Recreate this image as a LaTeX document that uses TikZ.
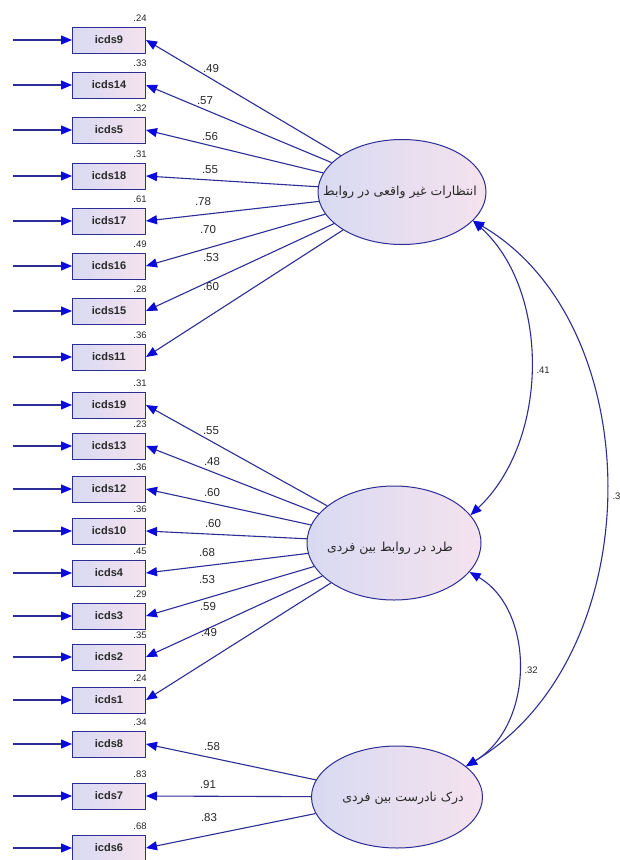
\documentclass[tikz,border=0pt]{standalone}
\usepackage{fontspec}
\setmainfont{Liberation Sans}
\newfontfamily\arabicfont[Script=Arabic]{DejaVu Sans}
\TeXXeTstate=1
\usetikzlibrary{arrows.meta,shapes.geometric}
\definecolor{edgec}{RGB}{45,45,150}
\definecolor{tipc}{RGB}{10,10,220}
\definecolor{fillL}{RGB}{216,218,242}
\definecolor{fillR}{RGB}{245,226,238}
\definecolor{txt}{RGB}{40,40,40}
\begin{document}
\begin{tikzpicture}[x=1pt,y=-1pt,
 obs/.style={draw=edgec, line width=1pt, left color=fillL, right color=fillR,
   minimum width=73pt, minimum height=26pt, inner sep=0pt,
   font=\fontsize{11}{12}\selectfont\bfseries, text=txt},
 lat/.style={ellipse, draw=edgec, line width=1pt, left color=fillL, right color=fillR, inner sep=0pt},
 arr/.style={draw=edgec, line width=1.1pt, -{Triangle[length=11pt,width=9pt,color=tipc]}},
 dbl/.style={draw=edgec, line width=1.1pt, {Triangle[length=11pt,width=9pt,color=tipc]}-{Triangle[length=11pt,width=9pt,color=tipc]}},
 coef/.style={font=\fontsize{11.5}{13}\selectfont, text=txt},
 var/.style={font=\fontsize{9.5}{11}\selectfont, text=txt},
 fac/.style={font=\arabicfont\fontsize{12.5}{14}\selectfont, text=txt},
]
\useasboundingbox (0,0) rectangle (619,860);
\fill[white] (0,0) rectangle (619,860);

% observed variables
\foreach \n/\y/\v in {9/40/.24, 14/85/.33, 5/130/.32, 18/176/.31, 17/221/.61, 16/266/.49, 15/311/.28, 11/357/.36,
  19/405/.31, 13/446/.23, 12/489/.36, 10/531/.36, 4/573/.45, 3/616/.29, 2/657/.35, 1/700/.24,
  8/744/.34, 7/796/.83, 6/848/.68}{
  \node[obs] (b\n) at (109,\y) {icds\n};
  \coordinate (s\n) at (13,\y);
  \draw[arr] (s\n) -- (b\n);
  \node[var] (v\n) at (140,{\y-22}) {\v};
}

% latent variables
\node[lat, minimum width=168pt, minimum height=105pt] (F1) at (402,192) {};
\node[fac] (t1) at (400,192) {\beginR انتظارات غیر واقعی در روابط\endR};
\node[lat, minimum width=174pt, minimum height=114pt] (F2) at (394,543) {};
\node[fac] (t2) at (390,548) {\beginR طرد در روابط بین فردی\endR};
\node[lat, minimum width=171pt, minimum height=102pt] (F3) at (397,797) {};
\node[fac] (t3) at (403,798) {\beginR درک نادرست بین فردی\endR};

% loadings
\foreach \n/\lx/\ly/\c in {9/211/69/.49, 14/205/101/.57, 5/210/137/.56, 18/210/170/.55,
  17/203/202/.78, 16/208/230/.70, 15/211/258/.53, 11/211/287/.60}{
  \draw[arr] (F1) -- (b\n.east);
  \node[coef] (l\n) at (\lx,\ly) {\c};
}
\foreach \n/\lx/\ly/\c in {19/211/431/.55, 13/212/462/.48, 12/212/493/.60, 10/213/524/.60,
  4/207/553/.68, 3/207/580/.53, 2/208/607/.59, 1/209/633/.49}{
  \draw[arr] (F2) -- (b\n.east);
  \node[coef] (l\n) at (\lx,\ly) {\c};
}
\foreach \n/\lx/\ly/\c in {8/212/747/.58, 7/208/785/.91, 6/209/818/.83}{
  \draw[arr] (F3) -- (b\n.east);
  \node[coef] (l\n) at (\lx,\ly) {\c};
}

% covariances
\draw[dbl] (F1.-22) .. controls (550,290) and (550,440) .. (F2.20);
\draw[dbl] (F1.-22) .. controls (651,325) and (651,655) .. (F3.24);
\draw[dbl] (F2.-21) .. controls (535,610) and (535,725) .. (F3.24);
\node[var, anchor=west] (c12) at (533,370) {.41};
\node[var, anchor=west] (c13) at (609,496) {.3};
\node[var, anchor=west] (c23) at (521,670) {.32};
\end{tikzpicture}
\end{document}
